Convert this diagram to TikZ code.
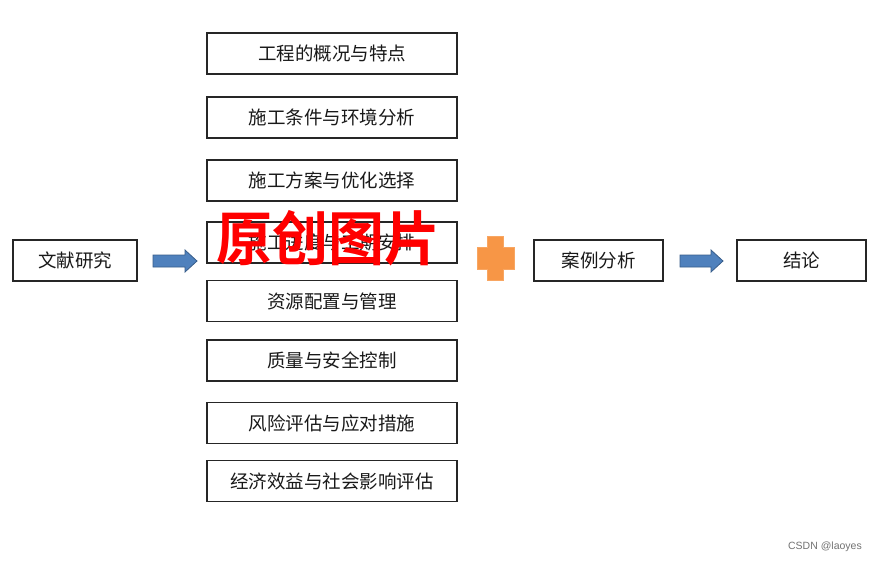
\documentclass[tikz,border=0pt]{standalone}
\usepackage{fontspec}
\newfontfamily\cjk{Noto Sans CJK SC}
\newfontfamily\cjkw{Noto Sans CJK SC Bold}
\setsansfont{Liberation Sans}
\begin{document}
\begin{tikzpicture}[x=1pt,y=-1pt,
  box/.style={draw=black!85, line width=1.2pt, fill=white, inner sep=0pt, font=\cjk\fontsize{18.5}{20}\selectfont, text=black!90},
  colbox/.style={box, minimum width=250pt, minimum height=41pt},
  sidebox/.style={box, minimum width=124pt, minimum height=41pt},
  bluearrow/.style={fill=arrowblue, draw=arrowborder, line width=0.8pt},
  ]
\definecolor{arrowblue}{HTML}{4F81BD}
\definecolor{arrowborder}{HTML}{385D8A}
\definecolor{plusorange}{HTML}{F79646}
\useasboundingbox (0,0) rectangle (878,563);
\fill[white] (0,0) rectangle (878,563);

\node[sidebox] (lit) at (75,260.5) {文献研究};
\node[colbox] (b1) at (332,53.5) {工程的概况与特点};
\node[colbox] (b2) at (332,117.5) {施工条件与环境分析};
\node[colbox] (b3) at (332,180.5) {施工方案与优化选择};
\node[colbox] (b4) at (332,242.5) {施工进度与工期安排};
\node[colbox] (b5) at (332,301) {资源配置与管理};
\node[colbox] (b6) at (332,360.5) {质量与安全控制};
\node[colbox] (b7) at (332,423) {风险评估与应对措施};
\node[colbox] (b8) at (332,481) {经济效益与社会影响评估};
\node[minimum width=129pt, minimum height=41pt, box] (case) at (598.5,260.5) {案例分析};
\node[minimum width=129pt, minimum height=41pt, box] (concl) at (801.5,260.5) {结论};

% arrows
\draw[bluearrow] (153,255) -- (185,255) -- (185,250) -- (197,261) -- (185,272) -- (185,267) -- (153,267) -- cycle;
\draw[bluearrow] (680,255) -- (711,255) -- (711,250) -- (723,261) -- (711,272) -- (711,267) -- (680,267) -- cycle;

% plus
\draw[fill=plusorange, draw=plusorange!85!white, line width=0.6pt]
  (487,236) -- (503,236) -- (503,247) -- (514,247) -- (514,269) -- (503,269) -- (503,280)
  -- (487,280) -- (487,269) -- (477,269) -- (477,247) -- (487,247) -- cycle;

% watermark
\node[text=red, font=\cjkw\fontsize{56}{60}\selectfont, inner sep=0pt, yscale=1.05] (wm) at (328,238) {原创图片};

\node[text=black!55, font=\sffamily\fontsize{10.5}{12}\selectfont, anchor=east, inner sep=0pt] (csdn) at (862,547) {CSDN @laoyes};
\end{tikzpicture}
\end{document}
